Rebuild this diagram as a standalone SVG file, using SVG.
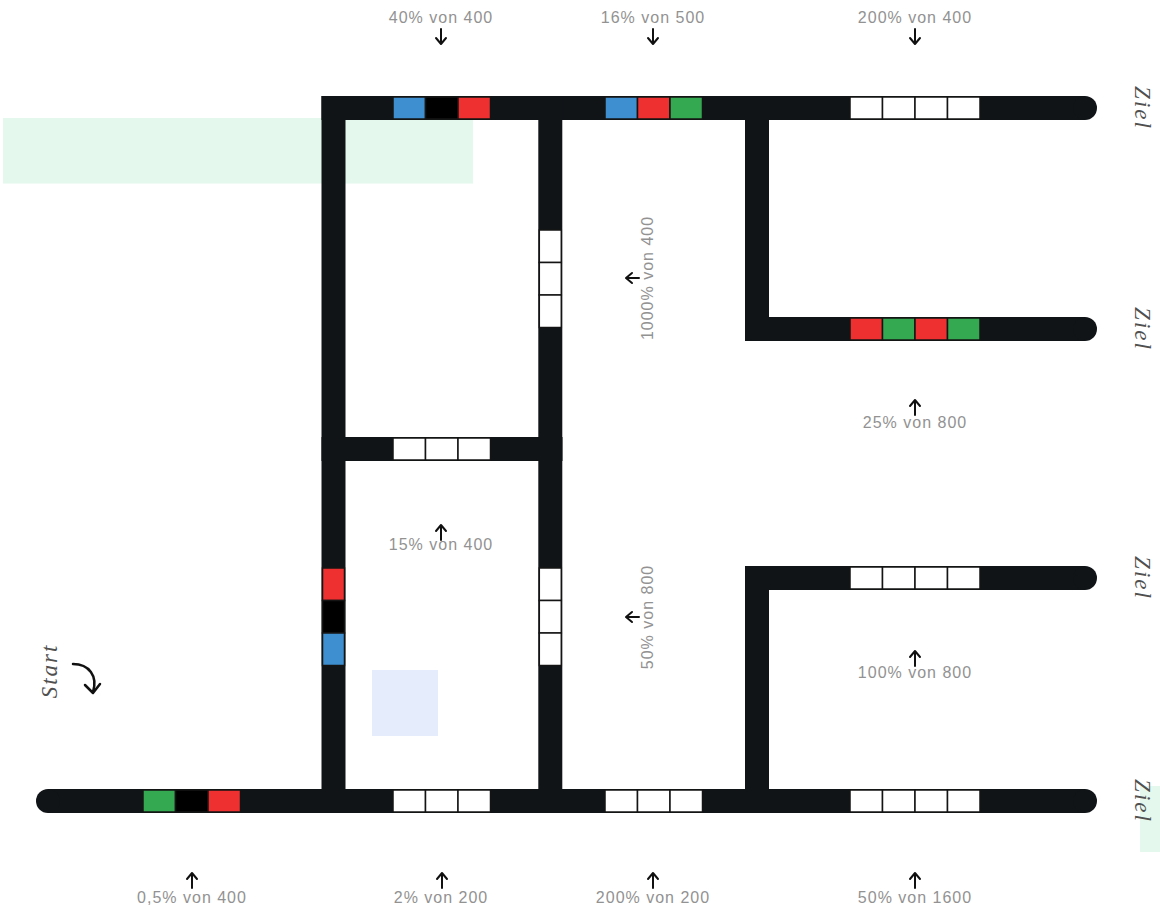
<svg xmlns="http://www.w3.org/2000/svg" width="1160" height="911" viewBox="0 0 1160 911">
<style>
.trk{fill:#111417}
.bx{stroke:#141414;stroke-width:1.5}
.w{fill:#ffffff}.r{fill:#ee3030}.g{fill:#35a852}.b{fill:#3d8fcf}.k{fill:#000000}
.lbl{font-family:"Liberation Sans",Arial,sans-serif;font-size:16px;fill:#929292;letter-spacing:1px;text-anchor:middle}
.cur{font-family:"Liberation Serif","Times New Roman",serif;font-style:italic;font-size:23px;fill:#505050;letter-spacing:2px;text-anchor:middle}
.arr{fill:none;stroke:#111111;stroke-width:2;stroke-linecap:round;stroke-linejoin:round}
</style>
<rect width="1160" height="911" fill="#ffffff"/>
<g id="highlights">
<rect x="3" y="118" width="470" height="65.5" fill="#e4f8ed"/>
<rect x="372" y="670" width="66" height="66" fill="#e5ecfc"/>
<rect x="1140" y="786" width="20" height="66" fill="#e4f8ed"/>
</g>
<g id="connectors">
<g id="track-top" class="trk"><rect x="321.5" y="96" width="763.5" height="24"/><circle cx="1085" cy="108" r="12"/></g>
<g id="track-left" class="trk"><rect x="321.5" y="96" width="24" height="717"/></g>
<g id="track-mid" class="trk"><rect x="538.3" y="96" width="24" height="717"/></g>
<g id="track-cross" class="trk"><rect x="321.5" y="437" width="241" height="24"/></g>
<g id="track-right-up" class="trk"><rect x="745" y="96" width="24" height="245"/><rect x="745" y="317" width="340" height="24"/><circle cx="1085" cy="329" r="12"/></g>
<g id="track-right-low" class="trk"><rect x="745" y="566" width="24" height="247"/><rect x="745" y="566" width="340" height="24"/><circle cx="1085" cy="578" r="12"/></g>
<g id="track-bottom" class="trk"><rect x="48" y="789" width="1037" height="24"/><circle cx="48" cy="801" r="12"/><circle cx="1085" cy="801" r="12"/></g>
</g>
<g id="boxes-top-1"><rect class="bx b" x="393" y="97" width="32.5" height="22"/><rect class="bx k" x="425.5" y="97" width="32.5" height="22"/><rect class="bx r" x="458" y="97" width="32.5" height="22"/></g>
<g id="boxes-top-2"><rect class="bx b" x="605" y="97" width="32.5" height="22"/><rect class="bx r" x="637.5" y="97" width="32.5" height="22"/><rect class="bx g" x="670" y="97" width="32.5" height="22"/></g>
<g id="boxes-top-3"><rect class="bx w" x="850" y="97" width="32.5" height="22"/><rect class="bx w" x="882.5" y="97" width="32.5" height="22"/><rect class="bx w" x="915" y="97" width="32.5" height="22"/><rect class="bx w" x="947.5" y="97" width="32.5" height="22"/></g>
<g id="boxes-branch-1"><rect class="bx r" x="850" y="318" width="32.5" height="22"/><rect class="bx g" x="882.5" y="318" width="32.5" height="22"/><rect class="bx r" x="915" y="318" width="32.5" height="22"/><rect class="bx g" x="947.5" y="318" width="32.5" height="22"/></g>
<g id="boxes-branch-2"><rect class="bx w" x="850" y="567" width="32.5" height="22"/><rect class="bx w" x="882.5" y="567" width="32.5" height="22"/><rect class="bx w" x="915" y="567" width="32.5" height="22"/><rect class="bx w" x="947.5" y="567" width="32.5" height="22"/></g>
<g id="boxes-cross"><rect class="bx w" x="393" y="438" width="32.5" height="22"/><rect class="bx w" x="425.5" y="438" width="32.5" height="22"/><rect class="bx w" x="458" y="438" width="32.5" height="22"/></g>
<g id="boxes-mid-up"><rect class="bx w" x="539.3" y="230" width="22" height="32.5"/><rect class="bx w" x="539.3" y="262.5" width="22" height="32.5"/><rect class="bx w" x="539.3" y="295" width="22" height="32.5"/></g>
<g id="boxes-mid-low"><rect class="bx w" x="539.3" y="568" width="22" height="32.5"/><rect class="bx w" x="539.3" y="600.5" width="22" height="32.5"/><rect class="bx w" x="539.3" y="633" width="22" height="32.5"/></g>
<g id="boxes-left"><rect class="bx r" x="322.5" y="568" width="22" height="32.5"/><rect class="bx k" x="322.5" y="600.5" width="22" height="32.5"/><rect class="bx b" x="322.5" y="633" width="22" height="32.5"/></g>
<g id="boxes-bottom-1"><rect class="bx g" x="143" y="790" width="32.5" height="22"/><rect class="bx k" x="175.5" y="790" width="32.5" height="22"/><rect class="bx r" x="208" y="790" width="32.5" height="22"/></g>
<g id="boxes-bottom-2"><rect class="bx w" x="393" y="790" width="32.5" height="22"/><rect class="bx w" x="425.5" y="790" width="32.5" height="22"/><rect class="bx w" x="458" y="790" width="32.5" height="22"/></g>
<g id="boxes-bottom-3"><rect class="bx w" x="605" y="790" width="32.5" height="22"/><rect class="bx w" x="637.5" y="790" width="32.5" height="22"/><rect class="bx w" x="670" y="790" width="32.5" height="22"/></g>
<g id="boxes-bottom-4"><rect class="bx w" x="850" y="790" width="32.5" height="22"/><rect class="bx w" x="882.5" y="790" width="32.5" height="22"/><rect class="bx w" x="915" y="790" width="32.5" height="22"/><rect class="bx w" x="947.5" y="790" width="32.5" height="22"/></g>
<g id="arrows" class="arr">
<path d="M441 29V43M436 38L441 44L446 38"/>
<path d="M653 29V43M648 38L653 44L658 38"/>
<path d="M915 29V43M910 38L915 44L920 38"/>
<path d="M192 888V874M187 879L192 873L197 879"/>
<path d="M442 888V874M437 879L442 873L447 879"/>
<path d="M653 888V874M648 879L653 873L658 879"/>
<path d="M915 888V874M910 879L915 873L920 879"/>
<path d="M441 540V526M436 531L441 525L446 531"/>
<path d="M915 415V401M910 406L915 400L920 406"/>
<path d="M915 666V652M910 657L915 651L920 657"/>
<path d="M639 278H627M632 273L626 278L632 283"/>
<path d="M639 617H627M632 612L626 617L632 622"/>
<path d="M73 664C89 664 98 676 93 692M85 685L93 693L100 684" stroke-width="2.5"/>
</g>
<g id="labels">
<text class="lbl" x="441" y="23">40% von 400</text>
<text class="lbl" x="653" y="23">16% von 500</text>
<text class="lbl" x="915" y="23">200% von 400</text>
<text class="lbl" x="192" y="903">0,5% von 400</text>
<text class="lbl" x="441" y="903">2% von 200</text>
<text class="lbl" x="653" y="903">200% von 200</text>
<text class="lbl" x="915" y="903">50% von 1600</text>
<text class="lbl" x="441" y="550">15% von 400</text>
<text class="lbl" x="915" y="428">25% von 800</text>
<text class="lbl" x="915" y="678">100% von 800</text>
<text class="lbl" transform="translate(653 278) rotate(-90)">1000% von 400</text>
<text class="lbl" transform="translate(653 617) rotate(-90)">50% von 800</text>
<text class="cur" transform="translate(1135 108) rotate(90)">Ziel</text>
<text class="cur" transform="translate(1135 329) rotate(90)">Ziel</text>
<text class="cur" transform="translate(1135 578) rotate(90)">Ziel</text>
<text class="cur" transform="translate(1135 801) rotate(90)">Ziel</text>
<text class="cur" transform="translate(57 671) rotate(-90)">Start</text>
</g>
</svg>
